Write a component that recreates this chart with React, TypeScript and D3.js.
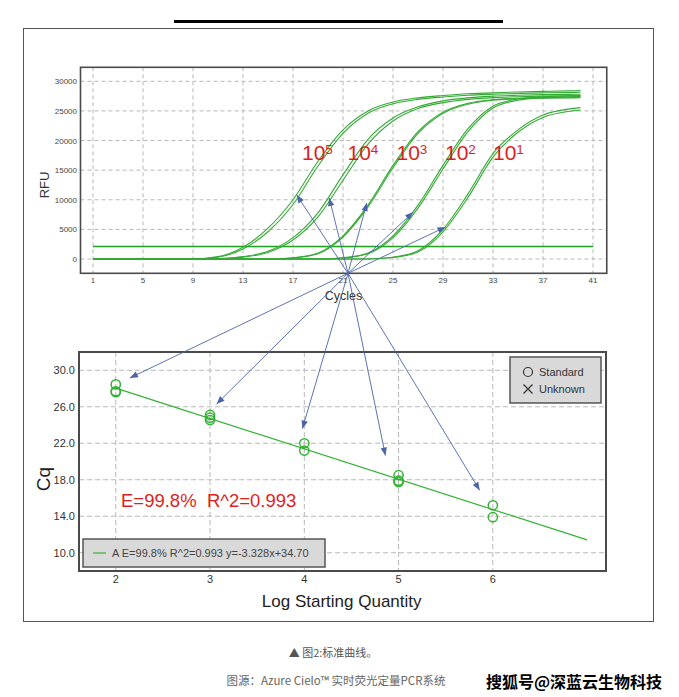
import React from "react";
import * as d3 from "d3";

// ---------- Data ----------
const cycles = [1, 3, 5, 7, 9, 11, 13, 15, 17, 19, 21, 23, 25, 27, 29, 31, 33, 35, 37, 39, 40];
const rfu1e5a = [0, 0, 0, 0, 0, 400, 2000, 5200, 10000, 16500, 21800, 25000, 26500, 27200, 27600, 27900, 28050, 28200, 28300, 28380, 28420];
const rfu1e5b = [0, 0, 0, 0, 0, 300, 1700, 4600, 9200, 15700, 21200, 24600, 26200, 26950, 27350, 27650, 27820, 27950, 28050, 28120, 28150];
const rfu1e4a = [0, 0, 0, 0, 0, 50, 400, 1300, 3600, 7800, 14200, 20200, 23800, 25700, 26700, 27200, 27500, 27650, 27750, 27800, 27820];
const rfu1e4b = [0, 0, 0, 0, 0, 40, 320, 1100, 3200, 7100, 13300, 19400, 23300, 25400, 26400, 26950, 27250, 27400, 27500, 27550, 27560];
const rfu1e3a = [0, 0, 0, 0, 0, 0, 0, 0, 200, 1000, 3900, 9100, 15800, 21500, 24800, 26300, 26900, 27150, 27250, 27300, 27320];
const rfu1e3b = [0, 0, 0, 0, 0, 0, 0, 0, 180, 900, 3700, 8800, 15400, 21200, 24600, 26150, 26800, 27050, 27150, 27200, 27220];
const rfu1e2a = [0, 0, 0, 0, 0, 0, 0, 0, 0, 0, 200, 1000, 3900, 9100, 15800, 22000, 25800, 27000, 27400, 27550, 27600];
const rfu1e2b = [0, 0, 0, 0, 0, 0, 0, 0, 0, 0, 170, 880, 3600, 8600, 15200, 21500, 25500, 26800, 27250, 27400, 27450];
const rfu1e1a = [0, 0, 0, 0, 0, 0, 0, 0, 0, 0, 0, 0, 300, 1400, 5000, 11000, 17800, 21800, 24300, 25300, 25550];
const rfu1e1b = [0, 0, 0, 0, 0, 0, 0, 0, 0, 0, 0, 0, 250, 1200, 4600, 10400, 17200, 21400, 23900, 24900, 25150];
const curveSeries = [rfu1e5a, rfu1e5b, rfu1e4a, rfu1e4b, rfu1e3a, rfu1e3b, rfu1e2a, rfu1e2b, rfu1e1a, rfu1e1b];

const threshold = 2100;
const thresholdRange = [1, 41];

const cycleTicks = [1, 5, 9, 13, 17, 21, 25, 29, 33, 37, 41];
const rfuTicks = [0, 5000, 10000, 15000, 20000, 25000, 30000];

const dilutionLabels = ["5", "4", "3", "2", "1"];
const dilutionLabelCycle = [17.72, 21.36, 25.28, 29.16, 33.0];
const dilutionLabelRfu = [16700, 16700, 16700, 16700, 16700];

// arrow targets on amplification curves (cycle, RFU)
const arrowTopCycle = [17.3, 19.9, 22.9, 26.6, 29.2];
const arrowTopRfu = [10800, 10300, 9450, 7900, 5400];
// arrow origin (cycle, at plot bottom)
const arrowOriginCycle = 21.4;

// standard curve
const logQty = [2, 2, 2, 3, 3, 3, 4, 4, 5, 5, 5, 6, 6];
const cqVals = [28.45, 27.7, 27.6, 25.1, 24.8, 24.55, 22.0, 21.2, 18.5, 17.9, 17.75, 15.2, 13.9];
const fitSlope = -3.328;
const fitIntercept = 34.7;
const fitXRange = [2, 7];
const logTicks = [2, 3, 4, 5, 6];
const cqTicks = [10, 14, 18, 22, 26, 30];
// arrow targets on standard curve (log qty, Cq)
const arrowBotLog = [2.15, 3.07, 3.98, 4.86, 5.86];
const arrowBotCq = [29.16, 26.3, 23.6, 20.65, 16.85];

const legendItems = ["Standard", "Unknown"];
const fitLegendText = "A E=99.8% R^2=0.993 y=-3.328x+34.70";
const effText = "E=99.8%  R^2=0.993";
const caption1 = "▲ 图2:标准曲线。";
const caption2 = "图源：Azure Cielo™ 实时荧光定量PCR系统";
const watermark = "搜狐号@深蓝云生物科技";

// ---------- Styles ----------
const FONT = "'Liberation Sans', Arial, Helvetica, sans-serif";
const CJK = "'Noto Sans CJK SC', 'Noto Sans', sans-serif";
const GREEN = "#34aa34";
const PT_GREEN = "#33b233";
const RED = "#dd1f22";
const ARROW = "#4a64a8";
const GRID = "#b8b8b8";
const FRAME = "#4a4a4a";

export default function App() {
  const W = 679, H = 697;

  // top chart
  const tx = d3.scaleLinear().domain([0, 42.1]).range([80.5, 606.75]);
  const ty = d3.scaleLinear().domain([-2414, 32364]).range([273.3, 67.3]);
  const line = d3
    .line<number>()
    .x((_, i) => tx(cycles[i]))
    .y((d) => ty(d))
    .curve(d3.curveMonotoneX);

  // bottom chart
  const bx = d3.scaleLinear().domain([1.61, 7.2]).range([79, 606]);
  const by = d3.scaleLinear().domain([8, 32]).range([571, 352]);

  const origin = { x: tx(arrowOriginCycle), y: ty(-2414) };

  const arrowHead = (x2: number, y2: number) => {
    const ang = Math.atan2(y2 - origin.y, x2 - origin.x);
    const len = 8, half = 3.2;
    const bxp = x2 - len * Math.cos(ang), byp = y2 - len * Math.sin(ang);
    const px = -Math.sin(ang) * half, py = Math.cos(ang) * half;
    return `M${x2},${y2}L${bxp + px},${byp + py}L${bxp - px},${byp - py}Z`;
  };

  const topTargets = arrowTopCycle.map((c, i) => ({ x: tx(c), y: ty(arrowTopRfu[i]) }));
  const botTargets = arrowBotLog.map((l, i) => ({ x: bx(l), y: by(arrowBotCq[i]) }));

  return (
    <svg
      width={W}
      height={H}
      viewBox={`0 0 ${W} ${H}`}
      style={{ position: "absolute", left: 0, top: 0, background: "#fff" }}
    >
      <rect x={0} y={0} width={W} height={H} fill="#fff" />
      {/* top black bar */}
      <rect x={174} y={20} width={329} height={3} fill="#000" />
      {/* outer frame */}
      <rect x={23.5} y={28.5} width={630} height={593} fill="none" stroke="#555" strokeWidth={1} />

      {/* ===== Top chart ===== */}
      <g>
        {cycleTicks.map((c) => (
          <line key={"vg" + c} x1={tx(c)} x2={tx(c)} y1={ty.range()[1]} y2={ty.range()[0]} stroke={GRID} strokeDasharray="4,3" strokeWidth={1} />
        ))}
        {rfuTicks.map((r) => (
          <line key={"hg" + r} x1={tx.range()[0]} x2={tx.range()[1]} y1={ty(r)} y2={ty(r)} stroke={GRID} strokeDasharray="4,3" strokeWidth={1} />
        ))}
        {/* threshold */}
        <line x1={tx(thresholdRange[0])} x2={tx(thresholdRange[1])} y1={ty(threshold)} y2={ty(threshold)} stroke="#1ea51e" strokeWidth={1.6} />
        {curveSeries.map((s, i) => (
          <path key={"c" + i} d={line(s) || ""} fill="none" stroke={GREEN} strokeWidth={1.1} />
        ))}
        <rect
          x={tx.range()[0]}
          y={ty.range()[1]}
          width={tx.range()[1] - tx.range()[0]}
          height={ty.range()[0] - ty.range()[1]}
          fill="none"
          stroke={FRAME}
          strokeWidth={1.6}
        />
        {rfuTicks.map((r) => (
          <text key={"yt" + r} x={77} y={ty(r) + 3} fontSize={8} fill="#444" textAnchor="end" fontFamily={FONT}>
            {r}
          </text>
        ))}
        {cycleTicks.map((c) => (
          <text key={"xt" + c} x={tx(c)} y={283} fontSize={8} fill="#444" textAnchor="middle" fontFamily={FONT}>
            {c}
          </text>
        ))}
        <text transform={`translate(49,185) rotate(-90)`} fontSize={13} fill="#333" textAnchor="middle" fontFamily={FONT}>
          RFU
        </text>
        <text x={343.5} y={299.5} fontSize={12.5} fill="#333" textAnchor="middle" fontFamily={FONT}>
          Cycles
        </text>
        {dilutionLabels.map((p, i) => (
          <text key={"dl" + i} x={tx(dilutionLabelCycle[i])} y={ty(dilutionLabelRfu[i])} fontSize={21} fill={RED} fontFamily={FONT}>
            10<tspan fontSize={13.5} dy={-6}>{p}</tspan>
          </text>
        ))}
      </g>

      {/* ===== Bottom chart ===== */}
      <g>
        {logTicks.map((l) => (
          <line key={"bvg" + l} x1={bx(l)} x2={bx(l)} y1={by.range()[1]} y2={by.range()[0]} stroke={GRID} strokeDasharray="5,3" strokeWidth={1} />
        ))}
        {cqTicks.map((c) => (
          <line key={"bhg" + c} x1={bx.range()[0]} x2={bx.range()[1]} y1={by(c)} y2={by(c)} stroke={GRID} strokeDasharray="5,3" strokeWidth={1} />
        ))}
        <line
          x1={bx(fitXRange[0])}
          y1={by(fitSlope * fitXRange[0] + fitIntercept)}
          x2={bx(fitXRange[1])}
          y2={by(fitSlope * fitXRange[1] + fitIntercept)}
          stroke={PT_GREEN}
          strokeWidth={1.2}
        />
        {logQty.map((l, i) => (
          <circle key={"pt" + i} cx={bx(l)} cy={by(cqVals[i])} r={4.6} fill="none" stroke={PT_GREEN} strokeWidth={1.5} />
        ))}
        <rect
          x={bx.range()[0]}
          y={by.range()[1]}
          width={bx.range()[1] - bx.range()[0]}
          height={by.range()[0] - by.range()[1]}
          fill="none"
          stroke={FRAME}
          strokeWidth={2}
        />
        {cqTicks.map((c) => (
          <text key={"byt" + c} x={75} y={by(c) + 4} fontSize={11} fill="#333" textAnchor="end" fontFamily={FONT}>
            {c.toFixed(1)}
          </text>
        ))}
        {logTicks.map((l) => (
          <text key={"bxt" + l} x={bx(l)} y={583} fontSize={11} fill="#333" textAnchor="middle" fontFamily={FONT}>
            {l}
          </text>
        ))}
        <text transform={`translate(50,479) rotate(-90)`} fontSize={19} fill="#222" textAnchor="middle" fontFamily={FONT}>
          Cq
        </text>
        <text x={341.7} y={606.5} fontSize={17} fill="#222" textAnchor="middle" fontFamily={FONT}>
          Log Starting Quantity
        </text>
        <text x={121} y={506.5} fontSize={18.5} fill={RED} fontFamily={FONT} style={{ whiteSpace: "pre" }}>
          {effText}
        </text>

        {/* legend top right */}
        <rect x={510} y={357} width={91} height={46} fill="#d9d9d9" stroke="#555" strokeWidth={1.5} />
        <circle cx={528} cy={372} r={4.5} fill="none" stroke="#333" strokeWidth={1.2} />
        <path d="M523.5,384.5L532.5,393.5M532.5,384.5L523.5,393.5" stroke="#333" strokeWidth={1.2} />
        {legendItems.map((t, i) => (
          <text key={"lg" + t} x={539} y={376 + i * 17} fontSize={11} fill="#333" fontFamily={FONT}>
            {t}
          </text>
        ))}

        {/* legend bottom left */}
        <rect x={83} y={539} width={242} height={28} fill="#d9d9d9" stroke="#555" strokeWidth={1.5} />
        <line x1={93} x2={106} y1={553} y2={553} stroke={PT_GREEN} strokeWidth={1.2} />
        <text x={112} y={557} fontSize={11} fill="#444" fontFamily={FONT}>
          {fitLegendText}
        </text>
      </g>

      {/* ===== Arrows ===== */}
      <g>
        {[...topTargets, ...botTargets].map((t, i) => (
          <g key={"ar" + i}>
            <line x1={origin.x} y1={origin.y} x2={t.x} y2={t.y} stroke={ARROW} strokeWidth={0.9} />
            <path d={arrowHead(t.x, t.y)} fill={ARROW} />
          </g>
        ))}
      </g>

      {/* captions */}
      <text x={333} y={657} fontSize={11} fill="#555" textAnchor="middle" fontFamily={CJK}>
        {caption1}
      </text>
      <text x={336} y={685} fontSize={11.5} fill="#666" textAnchor="middle" fontFamily={CJK}>
        {caption2}
      </text>
      <text x={574} y={688} fontSize={16} fill="#000" textAnchor="middle" fontFamily={CJK} fontWeight={700}>
        {watermark}
      </text>
    </svg>
  );
}
